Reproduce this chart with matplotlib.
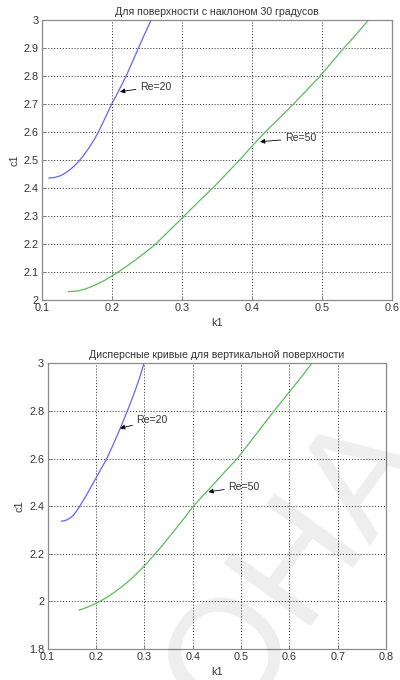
import matplotlib
matplotlib.use("Agg")
import matplotlib.pyplot as plt

plt.rcParams['font.family'] = ['Liberation Sans', 'DejaVu Sans']

# --- Upper panel: surface inclined at 30 degrees ---
title_top = "Для поверхности с наклоном 30 градусов"
k_re20_top = [0.110, 0.118, 0.126, 0.134, 0.142, 0.150, 0.158, 0.166, 0.174,
              0.1805, 0.190, 0.1995, 0.210, 0.220, 0.229, 0.2376, 0.2465, 0.2557]
c_re20_top = [2.436, 2.438, 2.444, 2.455, 2.470, 2.489, 2.512, 2.540, 2.571,
              2.600, 2.650, 2.700, 2.750, 2.800, 2.850, 2.900, 2.950, 3.000]
k_re50_top = [0.1376, 0.150, 0.160, 0.170, 0.180, 0.190, 0.200, 0.210, 0.220,
              0.235, 0.250, 0.2614, 0.281, 0.301, 0.323, 0.345, 0.363, 0.382,
              0.400, 0.4186, 0.439, 0.459, 0.478, 0.497, 0.514, 0.531, 0.549, 0.566]
c_re50_top = [2.030, 2.032, 2.038, 2.047, 2.058, 2.071, 2.086, 2.102, 2.119,
              2.146, 2.175, 2.198, 2.246, 2.295, 2.350, 2.403, 2.450, 2.500,
              2.550, 2.600, 2.650, 2.700, 2.750, 2.800, 2.850, 2.900, 2.950, 3.000]
xticks_top = [0.1, 0.2, 0.3, 0.4, 0.5, 0.6]
xticklabels_top = ["0.1", "0.2", "0.3", "0.4", "0.5", "0.6"]
yticks_top = [2.0, 2.1, 2.2, 2.3, 2.4, 2.5, 2.6, 2.7, 2.8, 2.9, 3.0]
yticklabels_top = ["2", "2.1", "2.2", "2.3", "2.4", "2.5", "2.6", "2.7", "2.8", "2.9", "3"]

# --- Lower panel: vertical surface ---
title_bot = "Дисперсные кривые для вертикальной поверхности"
k_re20_bot = [0.129, 0.137, 0.145, 0.153, 0.159, 0.165, 0.172, 0.180, 0.187,
              0.194, 0.208, 0.222, 0.233, 0.244, 0.255, 0.265, 0.275, 0.284,
              0.292, 0.2994]
c_re20_bot = [2.337, 2.340, 2.348, 2.361, 2.377, 2.395, 2.418, 2.445, 2.470,
              2.496, 2.547, 2.598, 2.647, 2.697, 2.750, 2.800, 2.852, 2.902,
              2.950, 3.000]
k_re50_bot = [0.1654, 0.180, 0.195, 0.210, 0.225, 0.240, 0.2565, 0.2716, 0.290,
              0.306, 0.322, 0.342, 0.362, 0.382, 0.4015, 0.424, 0.447, 0.470,
              0.4925, 0.5115, 0.5305, 0.5495, 0.5685, 0.600, 0.624, 0.6466]
c_re50_bot = [1.963, 1.974, 1.987, 2.002, 2.020, 2.041, 2.066, 2.092, 2.128,
              2.162, 2.198, 2.247, 2.297, 2.348, 2.400, 2.450, 2.500, 2.552,
              2.600, 2.650, 2.700, 2.750, 2.800, 2.880, 2.940, 3.000]
xticks_bot = [0.1, 0.2, 0.3, 0.4, 0.5, 0.6, 0.7, 0.8]
xticklabels_bot = ["0.1", "0.2", "0.3", "0.4", "0.5", "0.6", "0.7", "0.8"]
yticks_bot = [1.8, 2.0, 2.2, 2.4, 2.6, 2.8, 3.0]
yticklabels_bot = ["1.8", "2", "2.2", "2.4", "2.6", "2.8", "3"]

# curve labels: (text, arrow head, text anchor)
notes_top = [("Re=20", (0.2114, 2.745), (0.240, 2.763)),
             ("Re=50", (0.4114, 2.566), (0.447, 2.578))]
notes_bot = [("Re=20", (0.2498, 2.727), (0.284, 2.760)),
             ("Re=50", (0.4325, 2.460), (0.474, 2.482))]

BLUE = "#6464ff"
GREEN = "#5fb85f"
TXT = "#333333"

fig = plt.figure(figsize=(4.0, 6.8), dpi=100)
ax1 = fig.add_axes([0.105, 0.5588, 0.875, 0.4113])
ax2 = fig.add_axes([0.119, 0.0456, 0.846, 0.4201])


def style(ax, title, xt, xtl, yt, ytl, xlim, ylim):
    ax.set_xlim(*xlim)
    ax.set_ylim(*ylim)
    ax.set_xticks(xt)
    ax.set_xticklabels(xtl)
    ax.set_yticks(yt)
    ax.set_yticklabels(ytl)
    ax.grid(True, color="#222222", linestyle=(0, (1, 2)), linewidth=0.7)
    ax.tick_params(direction="in", length=3, width=0.6, colors="#777777",
                   labelcolor=TXT, labelsize=7.8, pad=2.5)
    for s in ax.spines.values():
        s.set_color("#8a8a8a")
        s.set_linewidth(0.9)
    ax.set_title(title, fontsize=7.6, color=TXT, pad=4)
    ax.set_xlabel("k1", fontsize=7.8, color=TXT, labelpad=3)
    ax.set_ylabel("c1", fontsize=7.8, color=TXT, labelpad=3)


def draw_notes(ax, notes):
    for text, head, anchor in notes:
        ax.annotate(text, xy=head, xytext=anchor, ha="left", va="center",
                    fontsize=7.6, color=TXT,
                    arrowprops=dict(arrowstyle="-|>", color="black", lw=0.6,
                                    mutation_scale=7, shrinkA=1, shrinkB=0))


style(ax1, title_top, xticks_top, xticklabels_top, yticks_top, yticklabels_top,
      (0.1, 0.6), (2.0, 3.0))
ax1.plot(k_re20_top, c_re20_top, color=BLUE, lw=0.9)
ax1.plot(k_re50_top, c_re50_top, color=GREEN, lw=0.9)
draw_notes(ax1, notes_top)

style(ax2, title_bot, xticks_bot, xticklabels_bot, yticks_bot, yticklabels_bot,
      (0.1, 0.8), (1.8, 3.0))
ax2.plot(k_re20_bot, c_re20_bot, color=BLUE, lw=0.9)
ax2.plot(k_re50_bot, c_re50_bot, color=GREEN, lw=0.9)
draw_notes(ax2, notes_bot)

# faint site watermark across the lower panel
fig.text(0.74, 0.165, "ОНА", rotation=54, fontsize=112, color="black",
         alpha=0.07, ha="center", va="center", zorder=10)

fig.savefig("out.png", dpi=100)
